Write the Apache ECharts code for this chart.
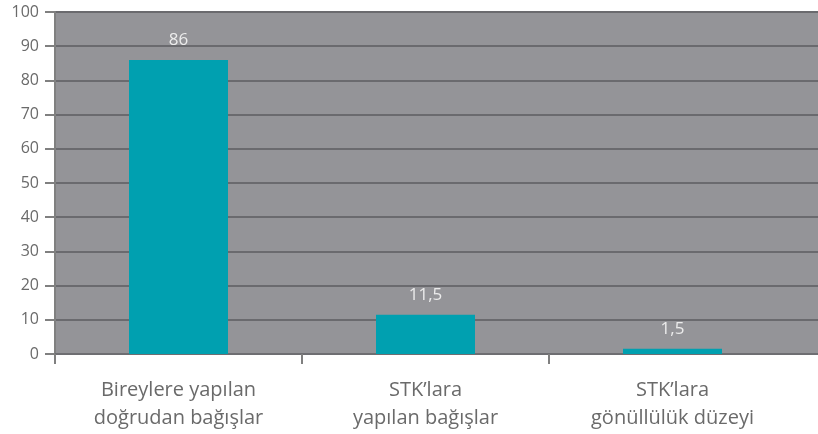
<!DOCTYPE html>
<html>
<head>
<meta charset="utf-8">
<script src="https://cdn.jsdelivr.net/npm/echarts@6/dist/echarts.min.js"></script>
<style>
  html, body { margin: 0; padding: 0; background: #fff; }
  #chart { width: 818px; height: 434px; }
</style>
</head>
<body>
<div id="chart"></div>
<script>
  // kategoriler ve değerler
  const categories = ['Bireylere yapılan\ndoğrudan bağışlar', 'STK’lara\nyapılan bağışlar', 'STK’lara\ngönüllülük düzeyi'];
  const values = [86, 11.5, 1.5];
  const yTicks = [0, 10, 20, 30, 40, 50, 60, 70, 80, 90, 100];

  const myChart = echarts.init(document.getElementById('chart'));
  const font = 'Open Sans';
  const catWidth = 247; // bir kategorinin piksel genişliği

  const option = {
    animation: false,
    // grid 0: gri arka plan, yatay çizgiler ve alt eksen (sağ kenara kadar)
    // grid 1: çubuklar ve kategori etiketleri
    grid: [
      { left: 55, right: 0, top: 12, bottom: 80, show: true, backgroundColor: '#949498', borderWidth: 0 },
      { left: 55, right: 22, top: 12, bottom: 80 }
    ],
    xAxis: [
      {
        gridIndex: 0, type: 'value', min: 0, max: 763 / catWidth,
        axisLine: { show: true, lineStyle: { color: '#6e6e72', width: 2 } },
        axisTick: { show: true, customValues: [0, 1, 2], length: 10, lineStyle: { color: '#808080', width: 2 } },
        axisLabel: { show: false },
        splitLine: { show: false }
      },
      {
        gridIndex: 1,
        type: 'category',
        data: categories,
        axisLine: { show: false },
        axisTick: { show: false },
        axisLabel: { color: '#6a6a6a', fontSize: 20, fontFamily: font, lineHeight: 28, margin: 22 }
      }
    ],
    yAxis: [
      {
        gridIndex: 0,
        type: 'value', min: 0, max: 100, interval: 10,
        axisLine: { show: false },
        axisTick: { show: false },
        axisLabel: { show: false },
        splitLine: { show: true, lineStyle: { color: '#6a6a6e', width: 2 } }
      },
      {
        gridIndex: 1,
        type: 'value', min: yTicks[0], max: yTicks[yTicks.length - 1], interval: 10,
        axisLine: { show: true, lineStyle: { color: '#808080', width: 2 } },
        axisTick: { show: true, length: 10, lineStyle: { color: '#808080', width: 2 } },
        axisLabel: { color: '#6a6a6a', fontSize: 16, fontFamily: font, margin: 16 },
        splitLine: { show: false }
      }
    ],
    series: [{
      type: 'bar',
      xAxisIndex: 1,
      yAxisIndex: 1,
      data: values,
      barWidth: 99,
      itemStyle: { color: '#00a0b0' },
      label: {
        show: true,
        position: 'top',
        distance: 11,
        color: '#ececec',
        fontSize: 17,
        fontFamily: font,
        formatter: p => String(p.value).replace('.', ',')
      }
    }]
  };

  myChart.setOption(option);
</script>
</body>
</html>
